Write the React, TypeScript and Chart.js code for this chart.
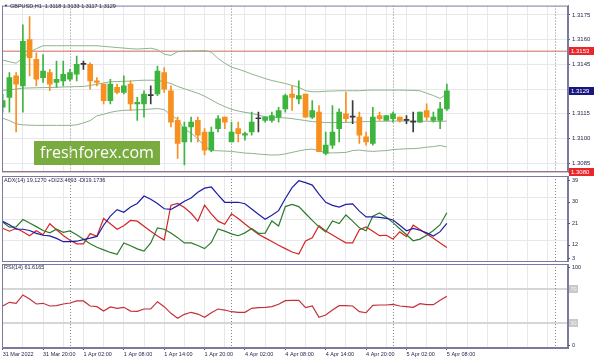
import React, { useEffect, useRef } from 'react';
import { Chart, registerables } from 'chart.js';

Chart.register(...registerables);

// ---------- data ----------
const timeLabels = ['31 Mar 2022', '31 Mar 20:00', '1 Apr 02:00', '1 Apr 08:00', '1 Apr 14:00', '1 Apr 20:00', '4 Apr 02:00', '4 Apr 08:00', '4 Apr 14:00', '4 Apr 20:00', '5 Apr 02:00', '5 Apr 08:00'];

const opens = [
  1.3119, 1.3125, 1.3138, 1.3132, 1.3160, 1.3148, 1.3137, 1.3140, 1.3134, 1.3135,
  1.3136, 1.3139, 1.3145, 1.3145, 1.3135, 1.3133, 1.3123, 1.3131, 1.3128, 1.3133,
  1.3121, 1.3121, 1.3126, 1.3127, 1.3140, 1.3129, 1.3111, 1.3098, 1.3107, 1.3111,
  1.3104, 1.3093, 1.3106, 1.3113, 1.3098, 1.3106, 1.3102, 1.3104, 1.3112, 1.3111,
  1.3111, 1.3113, 1.3118, 1.3127, 1.3124, 1.3127, 1.3113, 1.3116, 1.3091, 1.3096,
  1.3106, 1.3115, 1.3113, 1.3113, 1.3101, 1.3097, 1.3114, 1.3111, 1.3112, 1.3113,
  1.3111, 1.3110, 1.3110, 1.3117, 1.3111, 1.3111, 1.3118,
];
const highs = [
  1.3127, 1.3140, 1.3140, 1.3169, 1.3174, 1.3152, 1.3151, 1.3142, 1.3147, 1.3147,
  1.3142, 1.3150, 1.3147, 1.3146, 1.3137, 1.3133, 1.3136, 1.3133, 1.3138, 1.3135,
  1.3125, 1.3129, 1.3132, 1.3144, 1.3143, 1.3132, 1.3113, 1.3110, 1.3113, 1.3113,
  1.3106, 1.3107, 1.3114, 1.3113, 1.3110, 1.3110, 1.3104, 1.3116, 1.3116, 1.3113,
  1.3116, 1.3119, 1.3127, 1.3132, 1.3135, 1.3127, 1.3123, 1.3120, 1.3104, 1.3120,
  1.3118, 1.3128, 1.3123, 1.3116, 1.3104, 1.3119, 1.3116, 1.3114, 1.3116, 1.3113,
  1.3114, 1.3116, 1.3116, 1.3121, 1.3116, 1.3122, 1.3133,
];
const lows = [
  1.3116, 1.3116, 1.3104, 1.3116, 1.3138, 1.3132, 1.3134, 1.3129, 1.3131, 1.3132,
  1.3135, 1.3135, 1.3142, 1.3130, 1.3132, 1.3121, 1.3121, 1.3127, 1.3127, 1.3117,
  1.3111, 1.3113, 1.3121, 1.3126, 1.3128, 1.3107, 1.3088, 1.3084, 1.3098, 1.3098,
  1.3090, 1.3092, 1.3104, 1.3106, 1.3098, 1.3098, 1.3099, 1.3102, 1.3104, 1.3110,
  1.3110, 1.3110, 1.3116, 1.3117, 1.3121, 1.3113, 1.3112, 1.3092, 1.3090, 1.3094,
  1.3098, 1.3110, 1.3109, 1.3097, 1.3096, 1.3096, 1.3111, 1.3111, 1.3110, 1.3110,
  1.3109, 1.3104, 1.3110, 1.3111, 1.3110, 1.3106, 1.3117,
];
const closes = [
  1.3123, 1.3137, 1.3133, 1.3159, 1.3149, 1.3136, 1.3141, 1.3133, 1.3136, 1.3139,
  1.3140, 1.3145, 1.3145, 1.3135, 1.3134, 1.3123, 1.3133, 1.3128, 1.3132, 1.3121,
  1.3122, 1.3127, 1.3126, 1.3141, 1.3130, 1.3110, 1.3097, 1.3107, 1.3110, 1.3102,
  1.3093, 1.3104, 1.3112, 1.3110, 1.3104, 1.3103, 1.3103, 1.3110, 1.3112, 1.3113,
  1.3114, 1.3117, 1.3126, 1.3125, 1.3126, 1.3113, 1.3117, 1.3092, 1.3096, 1.3104,
  1.3116, 1.3112, 1.3113, 1.3102, 1.3098, 1.3113, 1.3112, 1.3114, 1.3115, 1.3111,
  1.3111, 1.3110, 1.3116, 1.3113, 1.3113, 1.3118, 1.3129,
];

const bbUpper = [
  1.31476, 1.31466, 1.31457, 1.31489, 1.31524, 1.31545, 1.31563, 1.31563, 1.31563, 1.31563,
  1.31563, 1.31563, 1.31563, 1.31563, 1.31563, 1.31559, 1.31556, 1.31552, 1.31549, 1.31545,
  1.31543, 1.31545, 1.31548, 1.31539, 1.31512, 1.31504, 1.31527, 1.31530, 1.31531, 1.31532,
  1.31534, 1.31524, 1.31486, 1.31457, 1.31433, 1.31421, 1.31407, 1.31391, 1.31378, 1.31364,
  1.31352, 1.31343, 1.31334, 1.31322, 1.31311, 1.31290, 1.31284, 1.31284, 1.31287, 1.31288,
  1.31290, 1.31290, 1.31290, 1.31290, 1.31293, 1.31294, 1.31294, 1.31294, 1.31294, 1.31294,
  1.31293, 1.31292, 1.31290, 1.31275, 1.31261, 1.31243, 1.31273,
];
const bbMiddle = [
  1.31292, 1.31296, 1.31300, 1.31306, 1.31307, 1.31308, 1.31309, 1.31310, 1.31311, 1.31313,
  1.31314, 1.31315, 1.31316, 1.31322, 1.31329, 1.31337, 1.31344, 1.31346, 1.31347, 1.31349,
  1.31352, 1.31354, 1.31354, 1.31353, 1.31345, 1.31334, 1.31316, 1.31302, 1.31288, 1.31275,
  1.31257, 1.31235, 1.31212, 1.31194, 1.31177, 1.31167, 1.31159, 1.31153, 1.31142, 1.31132,
  1.31129, 1.31127, 1.31125, 1.31121, 1.31115, 1.31109, 1.31103, 1.31100, 1.31097, 1.31097,
  1.31097, 1.31098, 1.31099, 1.31101, 1.31103, 1.31104, 1.31105, 1.31105, 1.31106, 1.31106,
  1.31106, 1.31106, 1.31105, 1.31105, 1.31104, 1.31104, 1.31106,
];
const bbLower = [
  1.31123, 1.31109, 1.31089, 1.31083, 1.31081, 1.31080, 1.31080, 1.31080, 1.31080, 1.31080,
  1.31080, 1.31083, 1.31095, 1.31109, 1.31138, 1.31147, 1.31159, 1.31167, 1.31171, 1.31173,
  1.31174, 1.31176, 1.31179, 1.31182, 1.31176, 1.31144, 1.31115, 1.31056, 1.31033, 1.30998,
  1.30954, 1.30927, 1.30926, 1.30924, 1.30922, 1.30917, 1.30912, 1.30910, 1.30906, 1.30903,
  1.30900, 1.30901, 1.30907, 1.30916, 1.30925, 1.30933, 1.30936, 1.30927, 1.30913, 1.30913,
  1.30914, 1.30916, 1.30927, 1.30930, 1.30925, 1.30922, 1.30925, 1.30927, 1.30933, 1.30936,
  1.30938, 1.30939, 1.30942, 1.30948, 1.30951, 1.30958, 1.30949,
];

const adxMain = [
  20.0, 18.6, 16.8, 16.7, 16.2, 15.0, 14.2, 13.9, 12.9, 11.5,
  11.5, 11.7, 12.4, 13.0, 13.7, 18.4, 22.2, 24.9, 23.8, 26.0,
  27.5, 30.6, 29.3, 27.5, 25.3, 25.0, 26.6, 28.4, 29.8, 32.2,
  33.9, 34.4, 31.1, 28.0, 28.0, 28.0, 27.4, 25.2, 23.0, 20.9,
  22.6, 24.5, 29.6, 34.1, 37.0, 36.2, 35.2, 31.4, 28.0, 26.7,
  26.0, 27.1, 27.3, 24.3, 21.9, 21.9, 21.7, 21.3, 20.6, 18.4,
  16.1, 17.1, 16.3, 15.2, 13.9, 15.7, 19.2,
];
const plusDI = [
  19.7, 17.6, 17.7, 20.8, 19.3, 17.8, 16.2, 15.2, 16.7, 15.4,
  16.0, 14.4, 12.5, 10.6, 9.2, 8.1, 7.0, 6.2, 11.0, 9.8,
  8.5, 7.6, 11.0, 17.3, 16.7, 15.1, 13.2, 11.0, 11.0, 9.9,
  8.6, 11.2, 16.8, 15.9, 14.8, 14.0, 15.2, 17.0, 15.0, 15.1,
  20.2, 18.1, 26.2, 27.1, 26.2, 23.3, 20.4, 17.7, 15.6, 20.2,
  19.1, 22.7, 20.1, 17.3, 16.1, 22.2, 23.5, 21.7, 19.5, 16.9,
  14.4, 11.9, 12.6, 14.2, 16.2, 18.6, 23.6,
];
const minusDI = [
  17.1, 15.9, 17.1, 15.7, 14.0, 16.1, 14.4, 19.0, 16.5, 14.1,
  12.1, 10.6, 10.6, 14.9, 13.8, 21.2, 19.0, 16.7, 18.2, 20.4,
  20.1, 18.0, 15.9, 13.9, 12.2, 26.8, 27.5, 25.8, 23.4, 20.1,
  26.8, 23.1, 20.1, 18.8, 23.2, 21.2, 18.9, 16.7, 14.6, 13.1,
  11.6, 10.0, 8.6, 7.2, 6.3, 11.8, 13.1, 18.2, 16.0, 14.3,
  12.6, 11.0, 11.0, 16.5, 17.7, 15.9, 14.0, 14.2, 12.6, 15.6,
  13.6, 18.4, 16.6, 14.7, 12.9, 11.0, 9.1,
];
const rsiValues = [
  50.0, 54.4, 53.2, 63.2, 58.4, 52.4, 53.2, 50.0, 50.4, 52.4,
  53.6, 56.0, 56.0, 50.0, 49.2, 44.0, 48.8, 47.2, 48.4, 44.0,
  43.7, 46.4, 46.4, 55.1, 49.2, 41.3, 35.3, 40.1, 42.5, 40.4,
  36.5, 42.0, 46.4, 45.2, 43.2, 42.5, 42.5, 47.2, 48.0, 48.4,
  49.2, 52.0, 56.3, 56.8, 56.8, 48.0, 50.0, 36.5, 39.2, 45.2,
  50.4, 50.4, 50.0, 43.2, 42.0, 50.8, 51.2, 51.2, 52.0, 50.0,
  49.2, 48.4, 52.8, 51.6, 51.6, 56.8, 61.6,
];

const priceTicks = [1.3085, 1.3100, 1.3115, 1.3130, 1.3145, 1.3160, 1.3175];
const adxTicks = [39, 30, 21, 12, 3];
const rsiLevels = [70, 30];
const rsiEdges = [100, 0];
const resistance = 1.3153;
const support = 1.3080;
const lastClose = 1.3129;
const priceBoxes = [
  { value: resistance, label: '1.3153', bg: '#e8262b' },
  { value: lastClose, label: '1.3129', bg: '#17177e' },
  { value: support, label: '1.3080', bg: '#e8262b' },
];
const daySeparators = [10, 34, 58, 82];

const headerText = 'GBPUSD,H1  1.3118 1.3133 1.3117 1.3129';
const adxText = 'ADX(14) 19.1270 +DI23.4693 -DI19.1736';
const rsiText = 'RSI(14) 61.6165';
const watermark = 'freshforex.com';

// ---------- styles ----------
const FONT = '"Liberation Sans", Arial, sans-serif';
const GRID = '#e7e7ec';
const FRAME = '#7a7a9e';
const TEXT = '#26264a';
const UP = '#3db43d';
const DOWN = '#f7901e';
const DOJI = '#3a3a3a';
const BAND = '#8db38d';
const LEVEL = '#cf6a5c';
const X_MIN = -0.1;
const X_MAX = 84;
const AXIS_W = 26;

function xScale(showLabels: boolean): any {
  return {
    type: 'linear',
    min: X_MIN,
    max: X_MAX,
    offset: false,
    afterBuildTicks: (s: any) => {
      const t: any[] = [];
      for (let v = 0; v <= X_MAX; v += 3) t.push({ value: v });
      s.ticks = t;
    },
    afterFit: (s: any) => {
      s.height = showLabels ? 10 : 0;
    },
    grid: {
      offset: false,
      color: GRID,
      lineWidth: 1,
      drawTicks: showLabels,
      tickLength: 2,
      tickColor: (c: any) =>
        c.tick && c.tick.value % 6 === 0 && c.tick.value / 6 < timeLabels.length ? '#555570' : 'rgba(0,0,0,0)',
    },
    border: { display: showLabels, color: FRAME },
    ticks: {
      display: showLabels,
      autoSkip: false,
      maxRotation: 0,
      minRotation: 0,
      align: 'start',
      padding: 1,
      color: TEXT,
      font: { family: FONT, size: 5.5 },
      callback: (v: number) => (v % 6 === 0 && v / 6 < timeLabels.length ? timeLabels[v / 6] : ''),
    },
  };
}

function drawSeparators(chart: any) {
  const { ctx, chartArea: a, scales } = chart;
  ctx.save();
  ctx.beginPath();
  ctx.rect(a.left, a.top, a.right - a.left, a.bottom - a.top);
  ctx.clip();
  ctx.strokeStyle = '#858585';
  ctx.lineWidth = 1;
  ctx.setLineDash([1, 2]);
  for (const d of daySeparators) {
    const px = Math.round(scales.x.getPixelForValue(d)) + 0.5;
    ctx.beginPath();
    ctx.moveTo(px, a.top);
    ctx.lineTo(px, a.bottom);
    ctx.stroke();
  }
  ctx.restore();
}

function drawFrame(chart: any) {
  const { ctx, chartArea: a } = chart;
  ctx.save();
  ctx.strokeStyle = FRAME;
  ctx.lineWidth = 1;
  ctx.strokeRect(a.left + 0.5, a.top + 0.5, a.right - a.left - 1, a.bottom - a.top - 1);
  ctx.restore();
}

function text(ctx: any, s: string, x: number, y: number, color = TEXT, size = 5.5, align = 'left', family = FONT) {
  ctx.save();
  ctx.font = `${size}px ${family}`;
  ctx.fillStyle = color;
  ctx.textAlign = align;
  ctx.textBaseline = 'middle';
  ctx.fillText(s, x, y);
  ctx.restore();
}

function box(ctx: any, s: string, x: number, y: number, w: number, bg: string, fg: string) {
  ctx.save();
  ctx.fillStyle = bg;
  ctx.fillRect(x, Math.round(y) - 4, w, 8);
  ctx.restore();
  text(ctx, s, x + 2, Math.round(y), fg, 6);
}

function axisTick(ctx: any, x: number, y: number) {
  ctx.save();
  ctx.strokeStyle = '#555570';
  ctx.beginPath();
  ctx.moveTo(x, Math.round(y) + 0.5);
  ctx.lineTo(x + 2, Math.round(y) + 0.5);
  ctx.stroke();
  ctx.restore();
}

export default function App() {
  const mainRef = useRef<HTMLCanvasElement>(null);
  const adxRef = useRef<HTMLCanvasElement>(null);
  const rsiRef = useRef<HTMLCanvasElement>(null);

  useEffect(() => {
    Chart.defaults.font.family = FONT;
    const idx = opens.map((_, i) => i);
    const candleColors = idx.map((i) => (closes[i] > opens[i] ? UP : closes[i] < opens[i] ? DOWN : DOJI));
    const bodyData = idx.map((i) => ({ x: i, y: [opens[i], closes[i]] }));
    const wickData = idx.map((i) => ({ x: i, y: [lows[i], highs[i]] }));
    const series = (arr: number[]) => arr.map((v, i) => ({ x: i, y: v }));
    const hline = (v: number) => [{ x: X_MIN, y: v }, { x: X_MAX, y: v }];
    const lineDs = (arr: number[], color: string, width = 1, order = 2) => ({
      type: 'line',
      data: series(arr),
      borderColor: color,
      borderWidth: width,
      pointRadius: 0,
      tension: 0,
      order,
    });

    const common = {
      responsive: false,
      animation: false,
      events: [],
      devicePixelRatio: 1,
      plugins: { legend: { display: false }, tooltip: { enabled: false } },
    };

    const mainPlugin = {
      id: 'mainDecor',
      beforeDatasetsDraw(chart: any) {
        const { ctx, chartArea: a } = chart;
        const fam = `"Open Sans", ${FONT}`;
        ctx.save();
        ctx.fillStyle = '#7aab3e';
        ctx.fillRect(a.left + 32, 141, 126, 24);
        ctx.font = `16px ${fam}`;
        const w = ctx.measureText(watermark).width;
        const size = (16 * 114) / w;
        ctx.restore();
        text(ctx, watermark, a.left + 38, 153, '#ffffff', size, 'left', fam);
        drawSeparators(chart);
      },
      afterDraw(chart: any) {
        const { ctx, chartArea: a, scales } = chart;
        drawFrame(chart);
        text(ctx, '▼', 4, 6, TEXT, 4);
        text(ctx, headerText, 10, 6, TEXT, 5.5);
        const y = scales.y;
        for (const b of priceBoxes) {
          box(ctx, b.label, a.right + 1, y.getPixelForValue(b.value), 25, b.bg, '#ffffff');
        }
      },
    };

    const mainChart = new Chart(mainRef.current as HTMLCanvasElement, {
      type: 'bar',
      data: {
        datasets: [
          { type: 'bar', data: bodyData, backgroundColor: candleColors, barThickness: 5, minBarLength: 1, grouped: false, order: 0 } as any,
          { type: 'bar', data: wickData, backgroundColor: candleColors, barThickness: 1, grouped: false, order: 1 } as any,
          lineDs(bbUpper, BAND) as any,
          lineDs(bbMiddle, BAND) as any,
          lineDs(bbLower, BAND) as any,
          { type: 'line', data: hline(resistance), borderColor: LEVEL, borderWidth: 1, pointRadius: 0, order: 3 } as any,
          { type: 'line', data: hline(support), borderColor: LEVEL, borderWidth: 1, pointRadius: 0, order: 3 } as any,
        ],
      },
      options: {
        ...common,
        layout: { padding: { left: 2, top: 2, right: 0, bottom: 4 } },
        scales: {
          x: xScale(false),
          y: {
            type: 'linear',
            position: 'right',
            min: 1.307947,
            max: 1.318065,
            beginAtZero: false,
            afterBuildTicks: (s: any) => {
              s.ticks = priceTicks.map((v) => ({ value: v }));
            },
            afterFit: (s: any) => {
              s.width = AXIS_W;
            },
            grid: { color: GRID, tickLength: 2, tickColor: '#555570' },
            border: { color: FRAME },
            ticks: {
              color: TEXT,
              padding: 2,
              crossAlign: 'near',
              font: { family: FONT, size: 6 },
              callback: (v: number) => Number(v).toFixed(4),
            },
          },
        },
      } as any,
      plugins: [mainPlugin],
    } as any);

    const adxPlugin = {
      id: 'adxDecor',
      beforeDatasetsDraw(chart: any) {
        drawSeparators(chart);
      },
      afterDraw(chart: any) {
        const { ctx, chartArea: a, scales } = chart;
        drawFrame(chart);
        text(ctx, adxText, 4, a.top + 4.5, TEXT, 5.5);
        for (const v of adxTicks) {
          const p = scales.y.getPixelForValue(v);
          const ly = p + 4 > a.bottom - 2 ? p - 4 : p + 4;
          axisTick(ctx, a.right, ly);
          text(ctx, String(v), a.right + 4, ly, TEXT, 5.5);
        }
      },
    };

    const adxChart = new Chart(adxRef.current as HTMLCanvasElement, {
      type: 'line',
      data: {
        datasets: [
          lineDs(minusDI, '#d42626', 1.2, 2) as any,
          lineDs(plusDI, '#2d7a2d', 1.2, 1) as any,
          lineDs(adxMain, '#1d1da6', 1.2, 0) as any,
        ],
      },
      options: {
        ...common,
        layout: { padding: { left: 2, top: 1, right: 0, bottom: 0 } },
        scales: {
          x: xScale(false),
          y: {
            type: 'linear',
            position: 'right',
            min: 3,
            max: 39,
            afterBuildTicks: (s: any) => {
              s.ticks = [12, 21, 30].map((v) => ({ value: v }));
            },
            afterFit: (s: any) => {
              s.width = AXIS_W;
            },
            grid: { color: GRID, drawTicks: false },
            border: { color: FRAME },
            ticks: { display: false },
          },
        },
      } as any,
      plugins: [adxPlugin],
    } as any);

    const rsiPlugin = {
      id: 'rsiDecor',
      beforeDatasetsDraw(chart: any) {
        drawSeparators(chart);
      },
      afterDraw(chart: any) {
        const { ctx, chartArea: a, scales } = chart;
        drawFrame(chart);
        text(ctx, rsiText, 4, a.top + 3.5, TEXT, 5.5);
        const y = scales.y;
        const top = y.getPixelForValue(rsiEdges[0]);
        const bot = y.getPixelForValue(rsiEdges[1]);
        axisTick(ctx, a.right, top + 3);
        text(ctx, String(rsiEdges[0]), a.right + 4, top + 3, TEXT, 5.5);
        axisTick(ctx, a.right, bot - 3);
        text(ctx, String(rsiEdges[1]), a.right + 4, bot - 3, TEXT, 5.5);
        for (const v of rsiLevels) {
          const p = y.getPixelForValue(v);
          ctx.save();
          ctx.fillStyle = '#c9c9c9';
          ctx.fillRect(a.right + 1, Math.round(p) - 4, 9, 8);
          ctx.restore();
          text(ctx, String(v), a.right + 2.5, Math.round(p), '#f2f2f2', 5.5);
        }
      },
    };

    const rsiChart = new Chart(rsiRef.current as HTMLCanvasElement, {
      type: 'line',
      data: {
        datasets: [lineDs(rsiValues, '#c4303a', 1.2, 0) as any],
      },
      options: {
        ...common,
        layout: { padding: { left: 2, top: 1, right: 0, bottom: 0 } },
        scales: {
          x: xScale(true),
          y: {
            type: 'linear',
            position: 'right',
            min: 0,
            max: 100,
            afterBuildTicks: (s: any) => {
              s.ticks = rsiLevels.map((v) => ({ value: v }));
            },
            afterFit: (s: any) => {
              s.width = AXIS_W;
            },
            grid: { color: '#d6d6d6', lineWidth: 2, drawTicks: false },
            border: { color: FRAME },
            ticks: { display: false },
          },
        },
      } as any,
      plugins: [rsiPlugin],
    } as any);

    return () => {
      mainChart.destroy();
      adxChart.destroy();
      rsiChart.destroy();
    };
  }, []);

  return (
    <div style={{ position: 'fixed', left: 0, top: 0, width: 594, height: 358, background: '#ffffff', overflow: 'hidden' }}>
      <canvas ref={rsiRef} width={594} height={95} style={{ position: 'absolute', left: 0, top: 263 }} />
      <canvas ref={adxRef} width={594} height={87} style={{ position: 'absolute', left: 0, top: 175 }} />
      <canvas ref={mainRef} width={594} height={178} style={{ position: 'absolute', left: 0, top: 0 }} />
    </div>
  );
}
